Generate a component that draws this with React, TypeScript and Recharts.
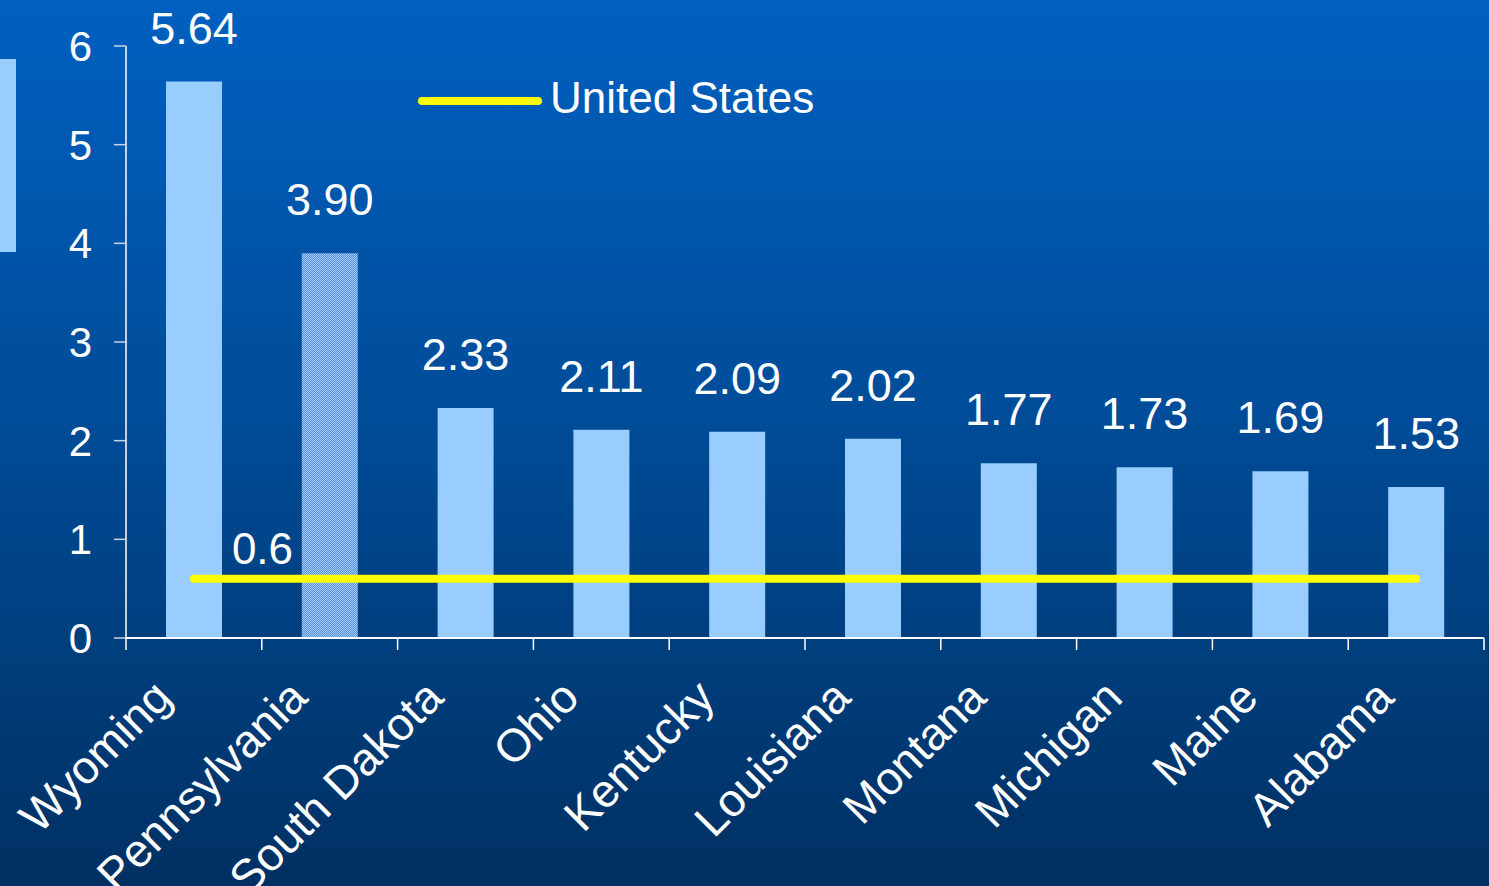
import React from 'react';
import { ComposedChart, Bar, Line, XAxis, YAxis, Legend, Cell, LabelList } from 'recharts';

const states = ['Wyoming', 'Pennsylvania', 'South Dakota', 'Ohio', 'Kentucky', 'Louisiana', 'Montana', 'Michigan', 'Maine', 'Alabama'];
const rates = [5.64, 3.9, 2.33, 2.11, 2.09, 2.02, 1.77, 1.73, 1.69, 1.53];
const usRate = 0.6;
const yTicks = [0, 1, 2, 3, 4, 5, 6];

const W = 1489;
const H = 886;
const MARGIN = { top: 46, right: 5, bottom: 0, left: 0 };
const Y_AXIS_W = 126;
const BAND = (W - MARGIN.left - MARGIN.right - Y_AXIS_W) / states.length;
const FONT = '"Liberation Sans", Arial, sans-serif';

const data = states.map((name, i) => ({ name, rate: rates[i], us: usRate }));

// category label, with tick marks on the band edges instead of the centres
const StateTick = (props: any) => {
  const { x, y, payload, index } = props;
  const tx = x - 20;
  const ty = y + 62;
  return (
    <g>
      <line x1={x - BAND / 2} x2={x - BAND / 2} y1={y} y2={y + 12} stroke="#ffffff" strokeWidth={1.5} />
      {index === states.length - 1 && (
        <line x1={x + BAND / 2} x2={x + BAND / 2} y1={y} y2={y + 12} stroke="#c8d4e4" strokeWidth={2} />
      )}
      <text x={tx} y={ty} transform={`rotate(-45 ${tx} ${ty})`} textAnchor="end" fill="#ffffff" fontSize={46} fontFamily={FONT}>
        {payload.value}
      </text>
    </g>
  );
};

const UsLabel = (props: any) => {
  const { x, y, value, index } = props;
  if (index !== 0) return null;
  return (
    <text x={x + 38} y={y - 15} fill="#ffffff" fontSize={44} fontFamily={FONT}>
      {value}
    </text>
  );
};

const LegendContent = () => (
  <div style={{ display: 'flex', alignItems: 'flex-start', fontFamily: FONT }}>
    <svg width={124} height={12} style={{ marginTop: 22 }}>
      <line x1={4} x2={120} y1={6} y2={6} stroke="#ffff00" strokeWidth={8} strokeLinecap="round" />
    </svg>
    <span style={{ color: '#ffffff', fontSize: 44, marginLeft: 8, whiteSpace: 'nowrap' }}>United States</span>
  </div>
);

export default function App() {
  return (
    <div
      style={{
        position: 'absolute',
        left: 0,
        top: 0,
        width: W,
        height: H,
        overflow: 'hidden',
        background: 'linear-gradient(to bottom, #0060c0 0%, #004d9a 45%, #003062 100%)',
        fontFamily: FONT,
      }}
    >
      {/* cut-off swatch on the left edge */}
      <div style={{ position: 'absolute', left: 0, top: 59, width: 16, height: 193, background: '#99ccff' }} />
      <ComposedChart width={W} height={H} data={data} margin={MARGIN} style={{ position: 'absolute', left: 0, top: 0 }}>
        <defs>
          <pattern id="checker" width={2} height={2} patternUnits="userSpaceOnUse">
            <rect x={0} y={0} width={1} height={1} fill="#99ccff" />
            <rect x={1} y={1} width={1} height={1} fill="#99ccff" />
            <rect x={1} y={0} width={1} height={1} fill="#5f8fd0" />
            <rect x={0} y={1} width={1} height={1} fill="#5f8fd0" />
          </pattern>
        </defs>
        <XAxis
          dataKey="name"
          type="category"
          height={H - 638}
          axisLine={{ stroke: '#ffffff', strokeWidth: 2 }}
          tickLine={false}
          tickSize={0}
          tickMargin={0}
          interval={0}
          tick={<StateTick />}
        />
        <YAxis
          type="number"
          domain={[0, 6]}
          ticks={yTicks}
          width={Y_AXIS_W}
          axisLine={{ stroke: '#ffffff', strokeWidth: 1.5 }}
          tickLine={{ stroke: '#c8d4e4', strokeWidth: 1.5 }}
          tickSize={12}
          tickMargin={22}
          tick={{ fill: '#ffffff', fontSize: 42, fontFamily: FONT }}
        />
        <Legend
          layout="horizontal"
          verticalAlign="middle"
          align="center"
          content={<LegendContent />}
          wrapperStyle={{ left: 418, top: 73, width: 440 }}
        />
        <Bar dataKey="rate" barSize={56} isAnimationActive={false} legendType="none">
          {data.map((d, i) => (
            <Cell key={d.name} fill={i === 1 ? 'url(#checker)' : '#99ccff'} />
          ))}
          <LabelList
            dataKey="rate"
            position="top"
            offset={38}
            formatter={(v: any) => Number(v).toFixed(2)}
            fill="#ffffff"
            fontSize={45}
            fontFamily={FONT}
          />
        </Bar>
        <Line
          dataKey="us"
          name="United States"
          stroke="#ffff00"
          strokeWidth={8}
          strokeLinecap="round"
          dot={false}
          activeDot={false}
          isAnimationActive={false}
        >
          <LabelList dataKey="us" content={<UsLabel />} />
        </Line>
      </ComposedChart>
    </div>
  );
}
